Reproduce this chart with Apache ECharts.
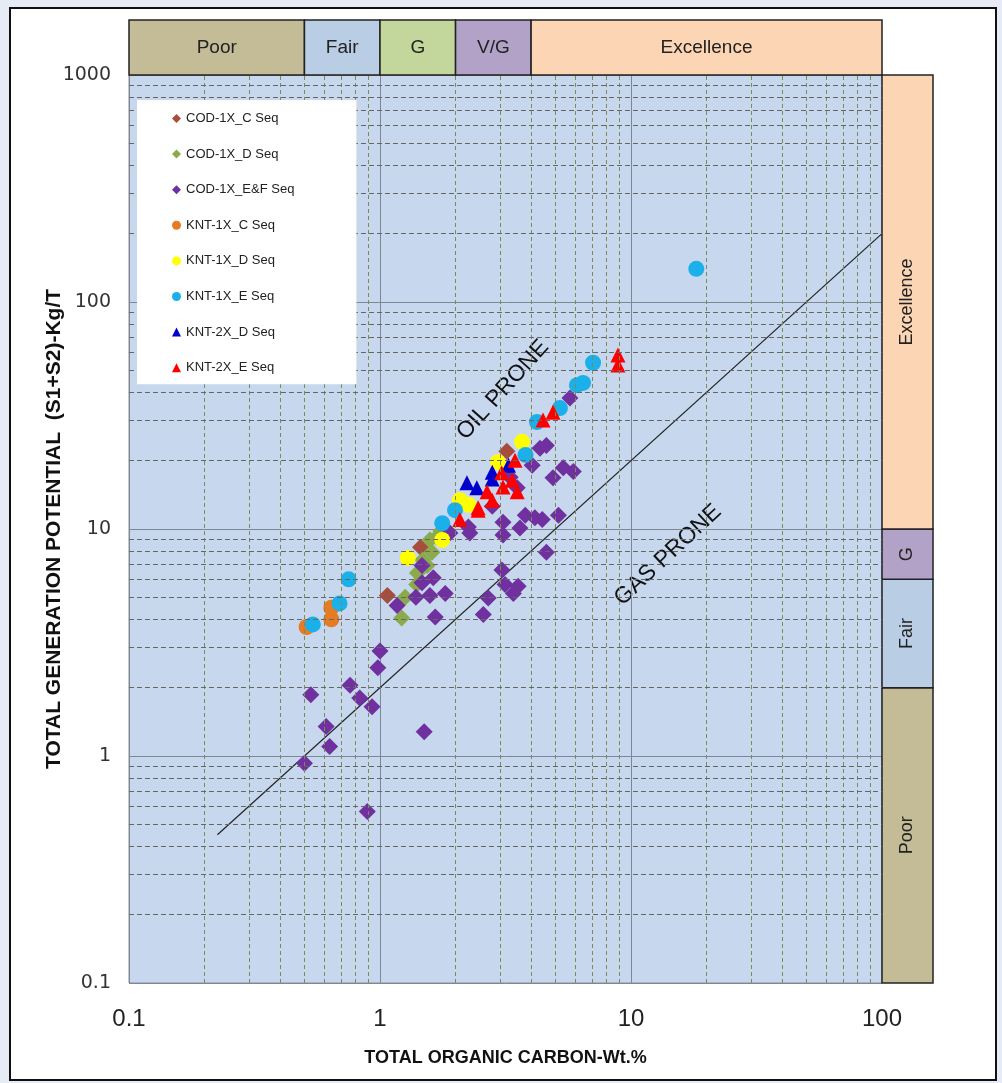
<!DOCTYPE html>
<html>
<head>
<meta charset="utf-8">
<script src="https://cdn.jsdelivr.net/npm/echarts@6/dist/echarts.min.js"></script>
<style>
  html, body { margin: 0; padding: 0; background: #e6ebf5; }
  #frame { position: absolute; left: 9px; top: 7px; width: 984px; height: 1070px; border: 2px solid #111; background: #fff; }
  #chart1 { position: absolute; left: 0; top: 0; width: 1002px; height: 1083px; }
</style>
</head>
<body>
<div id="frame"></div>
<div id="chart1"></div>
<script>
// TOC (wt.%) vs S1+S2 (kg/t)
var codC = [[1.07, 5.1], [1.45, 8.3], [3.2, 22]];
var codD = [[1.22, 4.05], [1.26, 5.0], [1.40, 5.7], [1.41, 6.4], [1.48, 7.3], [1.54, 6.9],
  [1.58, 8.95], [1.61, 7.9], [1.68, 9.2], [1.75, 9.8]];
var codEF = [[0.50, 0.93], [0.53, 1.86], [0.61, 1.35], [0.63, 1.1], [0.76, 2.05], [0.83, 1.8],
  [0.93, 1.65], [0.98, 2.45], [1.0, 2.9], [0.89, 0.57], [1.5, 1.28],
  [1.17, 4.6], [1.39, 5.0], [1.47, 5.8], [1.47, 6.9], [1.58, 5.1], [1.63, 6.1], [1.66, 4.1], [1.82, 5.2],
  [2.58, 4.2], [2.70, 4.97], [3.06, 6.6], [3.15, 5.7], [3.40, 5.2], [3.55, 5.6], [4.6, 7.9],
  [1.90, 9.6], [2.28, 9.6], [3.09, 9.4], [3.61, 10.1], [3.09, 10.7], [3.79, 11.5], [4.14, 11.2],
  [4.43, 11.0], [5.14, 11.5], [2.8, 12.6], [2.25, 10.2],
  [3.3, 16.9], [3.52, 15.2], [4.04, 19.1], [4.34, 22.7], [4.6, 23.3], [4.89, 16.8], [5.37, 18.6],
  [5.89, 17.9], [5.71, 37.8]];
var kntC = [[0.51, 3.7], [0.64, 4.0], [0.64, 4.5]];
var kntD1 = [[1.29, 7.45], [1.77, 8.95], [2.08, 13.4], [2.25, 12.8], [2.95, 19.7], [3.68, 24.2]];
var kntE1 = [[0.54, 3.8], [0.69, 4.7], [0.75, 6.0], [1.77, 10.6], [1.99, 12.1], [3.8, 21.2],
  [4.22, 29.6], [5.21, 34.1], [6.09, 43], [6.44, 44], [7.06, 54], [18.2, 140]];
var kntD2 = [[2.22, 16], [2.43, 15.2], [2.8, 17.8], [3.25, 19.1], [2.8, 16.6]];
var kntE2 = [[8.87, 58.4], [8.87, 52.8], [4.89, 32.7], [4.46, 30.2], [3.45, 20.1], [3.05, 17.7],
  [3.36, 16.4], [3.09, 15.3], [2.67, 14.6], [2.8, 13.4], [3.52, 14.6], [2.46, 12.4], [2.08, 11.0],
  [2.46, 12.1]];

// oil / gas prone divide, S1+S2 = 2 x TOC
var divideLine = [[0.225, 0.45], [100, 200]];

// quality bands
var tocBands = [['Poor', 0.1, 0.5, '#c4bc96'], ['Fair', 0.5, 1, '#b9cde5'], ['G', 1, 2, '#c3d69b'],
  ['V/G', 2, 4, '#b3a2c7'], ['Excellence', 4, 100, '#fcd5b5']];
var potBands = [['Poor', 0.1, 2, '#c4bc96'], ['Fair', 2, 6, '#b9cde5'], ['G', 6, 10, '#b3a2c7'],
  ['Excellence', 10, 1000, '#fcd5b5']];

var minorX = [0.2, 0.3, 0.4, 0.5, 0.6, 0.7, 0.8, 0.9, 2, 3, 4, 5, 6, 7, 8, 9, 20, 30, 40, 50, 60, 70, 80, 90];
var minorY = [0.2, 0.3, 0.4, 0.5, 0.6, 0.7, 0.8, 0.9, 2, 3, 4, 5, 6, 7, 8, 9,
  20, 30, 40, 50, 60, 70, 80, 90, 200, 300, 400, 500, 600, 700, 800, 900];

var dom = document.getElementById("chart1");
var myChart = echarts.init(dom);

var minorLines = [];
minorX.forEach(function (v) {
  minorLines.push({ xAxis: v, lineStyle: { color: '#7d8a55', type: [4, 3], width: 1 } });
});
minorY.forEach(function (v) {
  minorLines.push({ yAxis: v, lineStyle: { color: '#666', type: [5, 3], width: 1 } });
});

function bandAreas(list, dim, vertical) {
  return list.map(function (b) {
    var a = { name: b[0], itemStyle: { color: b[3], borderColor: '#222', borderWidth: 1.5 } };
    var c = {};
    a[dim] = b[1];
    c[dim] = b[2];
    if (vertical) a.label = { rotate: 90 };
    return [a, c];
  });
}

function pts(name, data, symbol, size, color) {
  return {
    name: name, type: 'scatter', data: data, symbol: symbol, symbolSize: size, z: 4,
    itemStyle: { color: color, opacity: 1 }, xAxisIndex: 0, yAxisIndex: 0
  };
}

var option = {
  animation: false,
  textStyle: { fontFamily: 'Liberation Sans' },
  grid: [
    { left: 129, right: 120, top: 75, bottom: 100, show: true, backgroundColor: '#c6d7ee', borderColor: '#8a8f99', borderWidth: 1 },
    { left: 129, right: 120, top: 20, height: 55 },
    { left: 882, width: 51, top: 75, bottom: 100 }
  ],
  xAxis: [
    {
      type: 'log', logBase: 10, min: 0.1, max: 100, gridIndex: 0,
      name: 'TOTAL ORGANIC CARBON-Wt.%', nameLocation: 'middle', nameGap: 66,
      nameTextStyle: { fontFamily: 'Liberation Sans', fontWeight: 'bold', fontSize: 18, color: '#111' },
      axisLine: { show: false }, axisTick: { show: false },
      axisLabel: { fontFamily: 'Liberation Sans', fontSize: 24, color: '#222', margin: 24 },
      splitLine: { show: true, lineStyle: { color: '#7f8794', width: 1 } }
    },
    { type: 'log', logBase: 10, min: 0.1, max: 100, gridIndex: 1, show: false },
    { type: 'value', min: 0, max: 1, gridIndex: 2, show: false }
  ],
  yAxis: [
    {
      type: 'log', logBase: 10, min: 0.1, max: 1000, gridIndex: 0,
      name: 'TOTAL GENERATION POTENTIAL  (S1+S2)-Kg/T', nameLocation: 'middle', nameGap: 64,
      nameMoveOverlap: false,
      nameTextStyle: { fontFamily: 'Liberation Sans', fontWeight: 'bold', fontSize: 21, color: '#111' },
      axisLine: { show: false }, axisTick: { show: false },
      axisLabel: {
        fontFamily: 'DejaVu Sans', fontSize: 19, color: '#333', margin: 18,
        formatter: function (v) { return String(v); }
      },
      splitLine: { show: true, lineStyle: { color: '#7f8794', width: 1 } }
    },
    { type: 'value', min: 0, max: 1, gridIndex: 1, show: false },
    { type: 'log', logBase: 10, min: 0.1, max: 1000, gridIndex: 2, show: false }
  ],
  legend: {
    orient: 'vertical', left: 137, top: 100, zlevel: 1,
    backgroundColor: '#fff', padding: [12, 62, 10, 35],
    itemGap: 22.6, itemWidth: 9, itemHeight: 9,
    textStyle: { fontFamily: 'Liberation Sans', fontSize: 13, color: '#222' },
    data: [
      { name: 'COD-1X_C Seq', icon: 'diamond' },
      { name: 'COD-1X_D Seq', icon: 'diamond' },
      { name: 'COD-1X_E&F Seq', icon: 'diamond' },
      { name: 'KNT-1X_C Seq', icon: 'circle' },
      { name: 'KNT-1X_D Seq', icon: 'circle' },
      { name: 'KNT-1X_E Seq', icon: 'circle' },
      { name: 'KNT-2X_D Seq', icon: 'triangle' },
      { name: 'KNT-2X_E Seq', icon: 'triangle' }
    ]
  },
  graphic: [
    {
      type: 'text', x: 503, y: 390, rotation: 48 * Math.PI / 180,
      style: { text: 'OIL PRONE', fontSize: 23, fontFamily: 'Liberation Sans', fill: '#111', align: 'center', verticalAlign: 'middle' }
    },
    {
      type: 'text', x: 668, y: 555, rotation: 43 * Math.PI / 180,
      style: { text: 'GAS PRONE', fontSize: 23, fontFamily: 'Liberation Sans', fill: '#111', align: 'center', verticalAlign: 'middle' }
    }
  ],
  series: [
    {
      name: 'minor', type: 'line', data: [], xAxisIndex: 0, yAxisIndex: 0, silent: true, z: 1,
      markLine: { silent: true, symbol: 'none', label: { show: false }, data: minorLines }
    },
    {
      name: 'divide', type: 'line', data: divideLine, xAxisIndex: 0, yAxisIndex: 0, z: 2,
      symbol: 'none', silent: true, lineStyle: { color: '#222', width: 1.2 }
    },
    pts('COD-1X_C Seq', codC, 'diamond', 17, '#a84c3c'),
    pts('COD-1X_D Seq', codD, 'diamond', 17, '#8aaa4c'),
    pts('COD-1X_E&F Seq', codEF, 'diamond', 17, '#7030a0'),
    pts('KNT-1X_C Seq', kntC, 'circle', 16, '#e57b22'),
    pts('KNT-1X_D Seq', kntD1, 'circle', 16, '#ffff00'),
    pts('KNT-1X_E Seq', kntE1, 'circle', 16, '#1cb0ea'),
    pts('KNT-2X_D Seq', kntD2, 'triangle', 15, '#0000cc'),
    pts('KNT-2X_E Seq', kntE2, 'triangle', 15, '#ff0000'),
    {
      name: 'tocBand', type: 'scatter', data: [], xAxisIndex: 1, yAxisIndex: 1, silent: true,
      markArea: {
        silent: true,
        label: { show: true, position: 'inside', fontFamily: 'Liberation Sans', fontSize: 19, color: '#222' },
        data: bandAreas(tocBands, 'xAxis', false)
      }
    },
    {
      name: 'potBand', type: 'scatter', data: [], xAxisIndex: 2, yAxisIndex: 2, silent: true,
      markArea: {
        silent: true,
        label: { show: true, position: 'inside', fontFamily: 'Liberation Sans', fontSize: 18, color: '#222' },
        data: bandAreas(potBands, 'yAxis', true)
      }
    }
  ]
};

myChart.setOption(option);
</script>
</body>
</html>
